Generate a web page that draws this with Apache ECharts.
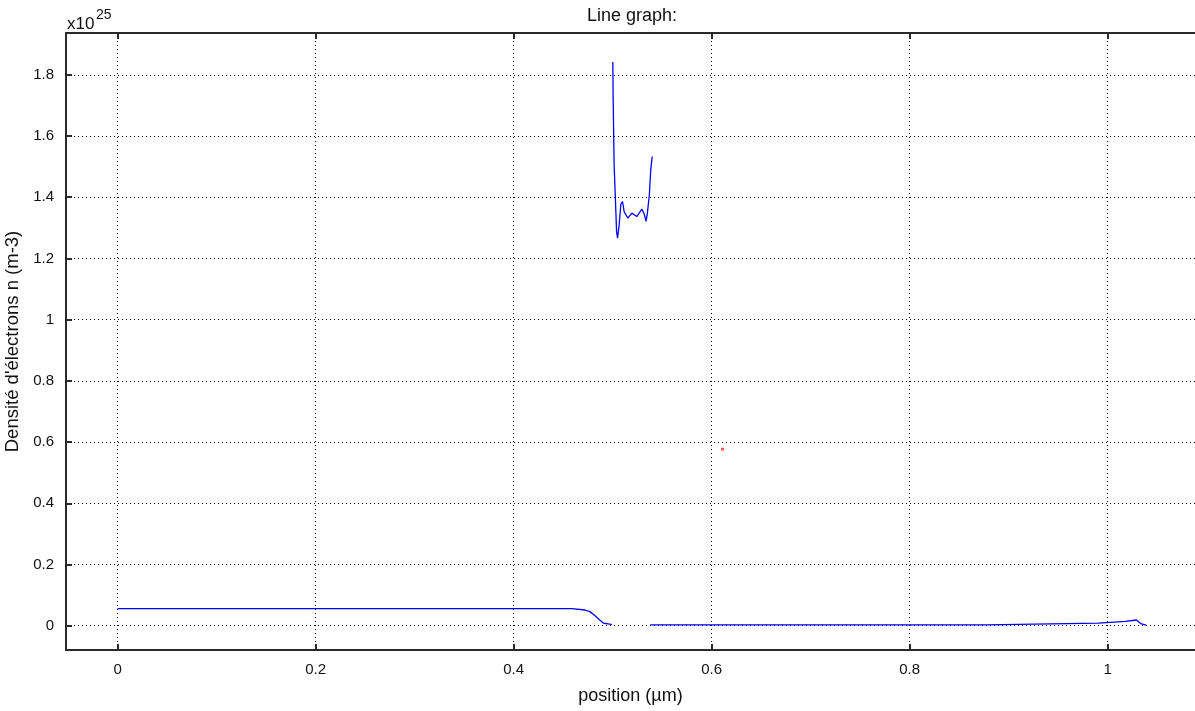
<!DOCTYPE html>
<html>
<head>
<meta charset="utf-8">
<script src="https://cdn.jsdelivr.net/npm/echarts@6/dist/echarts.min.js"></script>
<style>
html,body{margin:0;padding:0;background:#fff;}
#chart{width:1195px;height:711px;}
</style>
</head>
<body>
<div id="chart"></div>
<script>
// Units: position in µm, density in 1e25 m^-3
var xTicks = [0, 0.2, 0.4, 0.6, 0.8, 1];
var yTicks = [0, 0.2, 0.4, 0.6, 0.8, 1, 1.2, 1.4, 1.6, 1.8];

// segment 1 (0 – 0.5 µm)
var posA = [0, 0.459, 0.461, 0.472, 0.477, 0.482, 0.487, 0.491, 0.497, 0.4995];
var valA = [0.0556, 0.0556, 0.0513, 0.0513, 0.046, 0.033, 0.019, 0.008, 0.005, 0.004];

// segment 2 (0.5 – 0.54 µm)
var posB = [0.5002, 0.5005, 0.5015, 0.5032, 0.504, 0.505, 0.5066, 0.5083, 0.51, 0.5117,
            0.5154, 0.5194, 0.5244, 0.5295, 0.5318, 0.5338, 0.5351, 0.5371, 0.5385, 0.54];
var valB = [1.842, 1.729, 1.506, 1.359, 1.287, 1.266, 1.31, 1.377, 1.386, 1.352,
            1.332, 1.348, 1.337, 1.361, 1.346, 1.321, 1.348, 1.408, 1.49, 1.533];

// segment 3 (0.54 – 1.04 µm)
var posC = [0.538, 0.8775, 0.8785, 0.9905, 0.9915, 1.018, 1.019, 1.029, 1.034, 1.039];
var valC = [0.003, 0.003, 0.0085, 0.0085, 0.0144, 0.0144, 0.0186, 0.0186, 0.0056, 0.002];

// isolated red point
var redPos = [0.611];
var redVal = [0.5767];

function pairs(xs, ys) { return xs.map(function (x, i) { return [x, ys[i]]; }); }

var X_MIN = -0.0521, X_MAX = 1.0882;
var Y_MIN = -0.0794, Y_MAX = 1.9366;
var frame = { show: true, onZero: false, lineStyle: { color: '#2a2a2a', width: 2 } };
var grid = { show: true, lineStyle: { color: '#000', width: 1, type: [1, 3] } };
var tick = { show: true, inside: true, length: 6, lineStyle: { color: '#2a2a2a', width: 2 } };
var font = 'Liberation Sans, Arial, sans-serif';

var chart = echarts.init(document.getElementById('chart'), null, { renderer: 'canvas' });
chart.setOption({
  animation: false,
  backgroundColor: '#fff',
  grid: { left: 66, top: 33, right: 0, bottom: 61, containLabel: false, outerBoundsMode: 'none' },
  xAxis: [{
    type: 'value', min: X_MIN, max: X_MAX, position: 'bottom',
    axisLine: frame,
    axisTick: Object.assign({ customValues: xTicks }, tick),
    axisLabel: { customValues: xTicks, margin: 12, fontSize: 15, color: '#111', fontFamily: font },
    splitLine: grid,
    name: 'position (µm)', nameLocation: 'middle', nameGap: 37,
    nameTextStyle: { fontSize: 18, color: '#111', fontFamily: font }
  }, {
    type: 'value', min: X_MIN, max: X_MAX, position: 'top',
    axisLine: frame,
    axisTick: Object.assign({ customValues: xTicks }, tick),
    axisLabel: { show: false },
    splitLine: { show: false }
  }],
  yAxis: [{
    type: 'value', min: Y_MIN, max: Y_MAX, position: 'left',
    axisLine: frame,
    axisTick: Object.assign({ customValues: yTicks }, tick),
    axisLabel: { customValues: yTicks, margin: 12, fontSize: 15, color: '#111', fontFamily: font },
    splitLine: grid,
    name: "Densité d'électrons n (m-3)", nameLocation: 'middle', nameGap: 33,
    nameTextStyle: { fontSize: 18.5, color: '#111', fontFamily: font }
  }],
  graphic: [
    { type: 'text', x: 632, y: 16, style: { text: 'Line graph:', fontSize: 18, fontFamily: font, fill: '#111', textAlign: 'center', textVerticalAlign: 'middle' } },
    { type: 'text', x: 67, y: 24, style: { text: 'x10', fontSize: 17, fontFamily: font, fill: '#111', textAlign: 'left', textVerticalAlign: 'middle' } },
    { type: 'text', x: 96, y: 15, style: { text: '25', fontSize: 14, fontFamily: font, fill: '#111', textAlign: 'left', textVerticalAlign: 'middle' } }
  ],
  series: [
    { type: 'line', xAxisIndex: 0, data: pairs(posA, valA), showSymbol: false, symbol: 'none', lineStyle: { color: '#0000ff', width: 1.3 }, z: 5 },
    { type: 'line', xAxisIndex: 0, data: pairs(posB, valB), showSymbol: false, symbol: 'none', lineStyle: { color: '#0000ff', width: 1.3 }, z: 5 },
    { type: 'line', xAxisIndex: 0, data: pairs(posC, valC), showSymbol: false, symbol: 'none', lineStyle: { color: '#0000ff', width: 1.3 }, z: 5 },
    { type: 'scatter', xAxisIndex: 0, data: pairs(redPos, redVal), symbol: 'rect', symbolSize: 3, itemStyle: { color: '#ff3030' }, z: 6 }
  ]
});
</script>
</body>
</html>
